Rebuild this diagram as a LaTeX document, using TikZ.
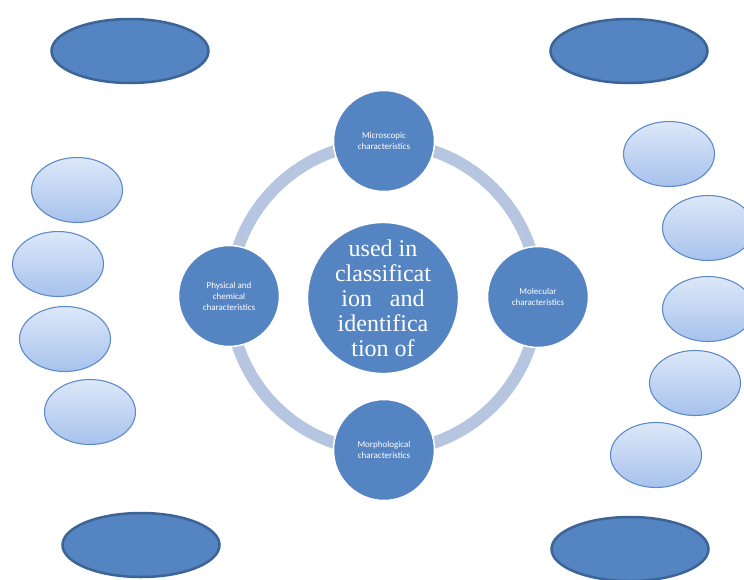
\documentclass[tikz,border=0pt]{standalone}
\usepackage{fontspec}
\setmainfont{Liberation Serif}
\newfontfamily\calibri{Carlito}
\usetikzlibrary{shapes.geometric}

\definecolor{midblue}{HTML}{5584C2}
\definecolor{deepblue}{HTML}{3C6496}
\definecolor{ringblue}{HTML}{B6C6E1}
\definecolor{paleblue}{HTML}{DDE8F9}
\definecolor{softblue}{HTML}{A7C2EC}
\definecolor{edgeblue}{HTML}{5D8BC9}

\tikzset{
  hub/.style={circle,fill=midblue,draw=white,line width=1.5pt,
    minimum size=138pt,inner sep=0pt,text=white,align=center,
    font=\fontsize{24}{25}\selectfont},
  spoke/.style={circle,fill=midblue,draw=white,line width=1.5pt,
    minimum size=101pt,inner sep=0pt,text=white,align=center,
    font=\calibri\fontsize{9}{11}\selectfont},
  outer/.style={ellipse,fill=midblue,draw=deepblue,line width=2.5pt,
    minimum width=157pt,minimum height=64pt},
  bubble/.style={ellipse,top color=paleblue,bottom color=softblue,
    draw=edgeblue,line width=1.1pt,minimum width=91pt,minimum height=65pt}
}

\begin{document}
\begin{tikzpicture}[x=1pt,y=-1pt]
\clip (0,0) rectangle (744,579);
\fill[white] (0,0) rectangle (744,579);

% ring first, the circles sit on top of it
\coordinate (mid) at (384,297);
\draw[ringblue,line width=12pt] (mid) circle (154);

\node[hub] (hub) at (383,298)
  {used in\\classificat\\ion\ \ \ and\\identifica\\tion of};

\node[spoke] (micro) at (384,141) {Microscopic\\characteristics};
\node[spoke] (molec) at (538,297) {Molecular\\characteristics};
\node[spoke] (morph) at (384,450) {Morphological\\characteristics};
\node[spoke] (phys)  at (229,296) {Physical and\\chemical\\characteristics};

% corner ellipses
\foreach \n/\p in {tl/{130,51},tr/{629,51},bl/{141,545},br/{630,549}}
  \node[outer] (\n) at (\p) {};

% side bubbles
\foreach \n/\x/\y in {l1/77/190,l2/58/264,l3/65/339,l4/90/412,
    r1/669/154,r2/708/228,r3/708/309,r4/695/383,r5/656/455}
  \node[bubble] (\n) at (\x,\y) {};
\end{tikzpicture}
\end{document}
